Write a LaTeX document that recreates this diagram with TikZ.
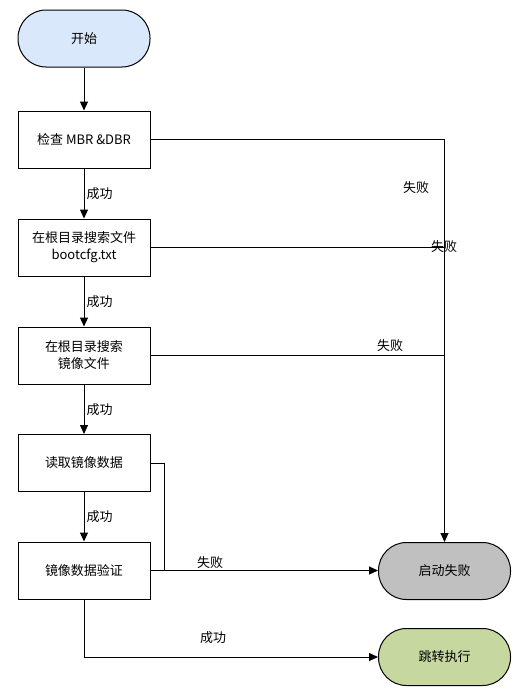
\documentclass[tikz,border=0pt]{standalone}
\usepackage{fontspec}
\setmainfont{Noto Sans CJK SC}
\usepackage{xcolor}
\usetikzlibrary{arrows.meta, positioning}
\definecolor{StartBlue}{HTML}{DAE8FC}
\definecolor{FailGray}{HTML}{C0C0C0}
\definecolor{JumpGreen}{HTML}{C6D8A0}

\begin{document}
\begin{tikzpicture}[x=1pt, y=-1pt, line width=1pt, >={Triangle[length=9pt,width=8pt]},
        font=\fontsize{13}{17}\selectfont,
        stepbox/.style={draw, fill=white, minimum width=132pt, minimum height=57pt, align=center},
        terminal/.style={draw, rounded corners=28pt, minimum width=132pt, minimum height=57pt},
        lbl/.style={inner sep=2pt}]
        \useasboundingbox (0,0) rectangle (528,699);
        \node[terminal, fill=StartBlue] (Start) at (84,38.5) {开始};
        \node[stepbox] (CheckMBR) at (84,139.5) {检查 MBR \&DBR};
        \node[stepbox] (SearchCfg) at (84,247.5) {在根目录搜索文件\\bootcfg.txt};
        \node[stepbox] (SearchImg) at (84,355.5) {在根目录搜索\\镜像文件};
        \node[stepbox] (ReadImg) at (84,463) {读取镜像数据};
        \node[stepbox] (Verify) at (84,570.5) {镜像数据验证};
        \node[terminal, fill=FailGray] (Fail) at (444.5,571) {启动失败};
        \node[terminal, fill=JumpGreen] (Jump) at (444.5,657) {跳转执行};
        \coordinate (Merge) at (164,570.5);
        \draw[->] (Start) -- (CheckMBR);
        \draw[->] (CheckMBR) -- node[right, lbl] {成功} (SearchCfg);
        \draw[->] (SearchCfg) -- node[right, lbl] {成功} (SearchImg);
        \draw[->] (SearchImg) -- node[right, lbl] {成功} (ReadImg);
        \draw[->] (ReadImg) -- node[right, lbl] {成功} (Verify);
        \draw[->] (CheckMBR.east) -- (CheckMBR.east -| Fail.north) -- (Fail.north);
        \draw (SearchCfg.east) -- (SearchCfg.east -| Fail.north);
        \draw (SearchImg.east) -- (SearchImg.east -| Fail.north);
        \draw (ReadImg.east) -| (Merge);
        \draw[->] (Verify.east) -- (Verify.east -| Fail.west);
        \draw[->] (Verify.south) |- (Jump.west);
        \node[lbl] (FailA) at (416,188) {失败};
        \node[lbl] (FailB) at (444,247) {失败};
        \node[lbl] (FailC) at (390,346) {失败};
        \node[lbl] (FailD) at (210,563) {失败};
        \node[lbl] (Success) at (213,638) {成功};
    \end{tikzpicture}
\end{document}
